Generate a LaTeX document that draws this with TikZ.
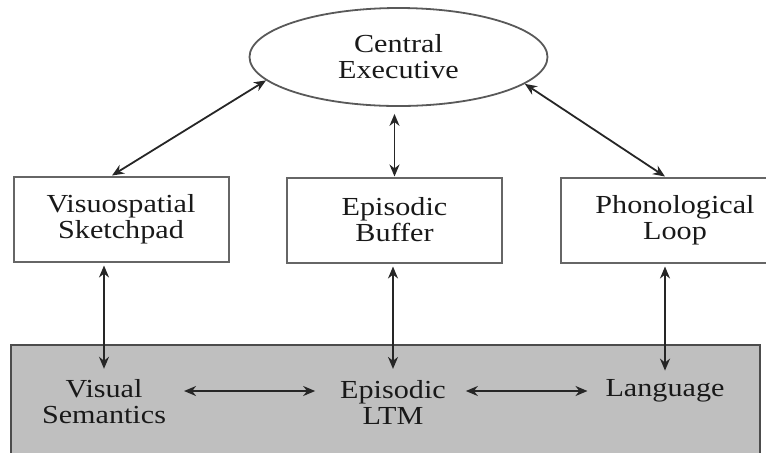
\documentclass[tikz,border=0pt]{standalone}
\usepackage{fontspec}
\setmainfont{Liberation Serif}[FakeStretch=1.16]
\usetikzlibrary{shapes.geometric, arrows.meta}

\tikzset{
	store/.style={draw=black!60, line width=1pt, fill=white, minimum width=107.5pt, minimum height=42.5pt, align=center},
	ltm/.style={align=center},
	link/.style={draw=black!85, line width=0.9pt, {Stealth[length=6pt,width=5pt]}-{Stealth[length=6pt,width=5pt]}},
}

\begin{document}
\begin{tikzpicture}[x=0.5pt, y=-0.5pt, font=\fontsize{13}{13}\selectfont, text=black!90]
					\useasboundingbox (0,0) rectangle (766,452);
					\clip (0,0) rectangle (766,452);

					% long-term memory band
					\filldraw[fill=black!25, draw=black!70, line width=1pt] (11,345) rectangle (760,470);

					\node[ellipse, draw=black!65, line width=0.9pt, minimum width=149pt, minimum height=49pt, inner sep=0pt, align=center] (ce) at (398.5,57) {Central\\Executive};

					\node[store] (vs) at (121,219) {Visuospatial\\Sketchpad};
					\node[store] (eb) at (394.5,220) {Episodic\\Buffer};
					\node[store, minimum width=114pt] (pl) at (675,220) {Phonological\\Loop};

					\node[ltm] (vsem) at (104,402) {Visual\\Semantics};
					\node[ltm] (eltm) at (393,402) {Episodic\\LTM};
					\node[ltm] (lang) at (665,391) {Language};

					\begin{scope}[link]
						\draw (ce.190) -- ([xshift=-4.5pt]vs.north);
						\draw (ce.348) -- ([xshift=-5pt]pl.north);
						\draw[shorten <=3.5pt] (ce.south -| eb.north) -- (eb.north);

						\draw[shorten <=1.5pt, shorten >=2pt] (vs.south -| vsem) -- (vsem.north);
						\draw[shorten <=1.5pt, shorten >=2pt] (eb.south -| eltm) -- (eltm.north);
						\draw[shorten <=1.5pt, shorten >=1pt] (pl.south -| lang) -- (lang.north);

						\draw[shorten <=5.5pt, shorten >=9pt] (vsem.east |- lang) -- (eltm.west |- lang);
						\draw[shorten <=6.5pt, shorten >=5.5pt] (eltm.east |- lang) -- (lang.west);
					\end{scope}
\end{tikzpicture}
\end{document}
